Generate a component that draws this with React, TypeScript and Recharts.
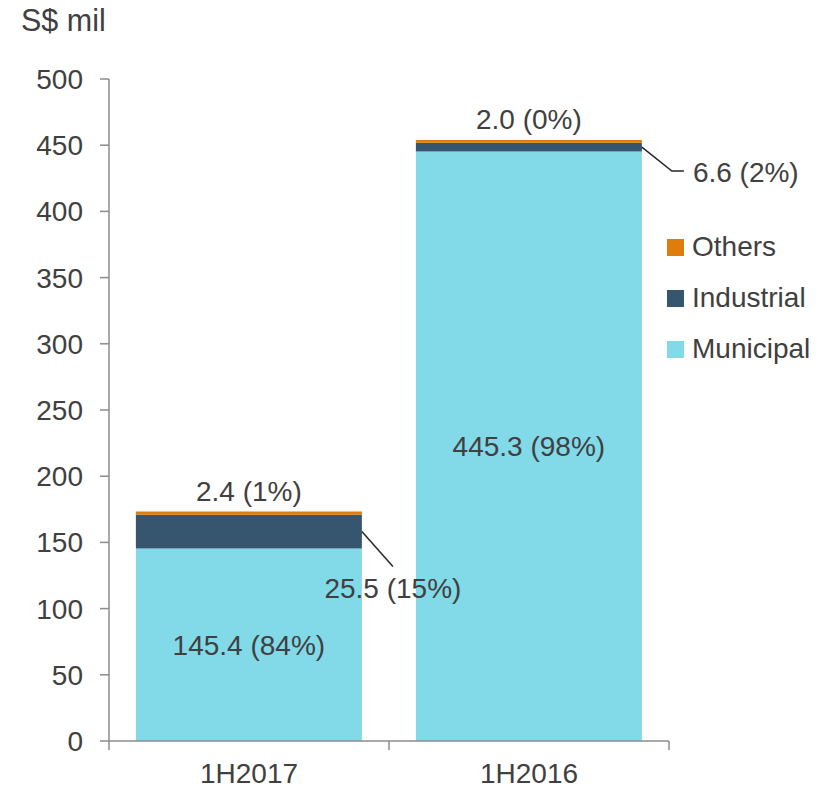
import React from 'react';
import { BarChart, Bar, XAxis, YAxis, LabelList } from 'recharts';

const categories = ['1H2017', '1H2016'];
const municipal = [145.4, 445.3];
const industrial = [25.5, 6.6];
const others = [2.4, 2.0];
const municipalPct = ['84%', '98%'];
const industrialPct = ['15%', '2%'];
const othersPct = ['1%', '0%'];
const yTicks = [0, 50, 100, 150, 200, 250, 300, 350, 400, 450, 500];
const yUnit = 'S$ mil';

const series = [
  { key: 'municipal', name: 'Municipal', color: '#82DAE9', values: municipal, pct: municipalPct },
  { key: 'industrial', name: 'Industrial', color: '#36566F', values: industrial, pct: industrialPct },
  { key: 'others', name: 'Others', color: '#DE7D0B', values: others, pct: othersPct },
];

const data = categories.map((c, i) => {
  const row: any = { category: c };
  series.forEach((s) => {
    row[s.key] = s.values[i];
  });
  return row;
});

const FONT = '"Liberation Sans", Arial, sans-serif';
const TEXT = '#404040';
const AXIS = '#8C8C8C';
const FS = 28;
const X_MARGIN = 22;

const fmt = (v: number, pct: string) => `${v.toFixed(1)} (${pct})`;

const TopLabel = (pcts: string[]) => (props: any) => {
  const { x, y, width, value, index } = props;
  return (
    <text x={x + width / 2} y={y - 11} textAnchor="middle" fill={TEXT} fontSize={FS} fontFamily={FONT}>
      {fmt(value, pcts[index])}
    </text>
  );
};

const CenterLabel = (pcts: string[]) => (props: any) => {
  const { x, y, width, height, value, index } = props;
  return (
    <text x={x + width / 2} y={y + height / 2} dy="0.355em" textAnchor="middle" fill={TEXT} fontSize={FS} fontFamily={FONT}>
      {fmt(value, pcts[index])}
    </text>
  );
};

const CalloutLabel = (pcts: string[]) => (props: any) => {
  const { x, y, width, height, value, index } = props;
  const sx = x + width;
  const sy = y + height / 2;
  const label = fmt(value, pcts[index]);
  if (index === 0) {
    return (
      <g>
        <line x1={sx} y1={sy} x2={sx + 31} y2={sy + 35} stroke="#262626" strokeWidth={1.5} />
        <text x={sx + 31} y={sy + 66} textAnchor="middle" fill={TEXT} fontSize={FS} fontFamily={FONT}>
          {label}
        </text>
      </g>
    );
  }
  return (
    <g>
      <polyline points={`${sx},${sy} ${sx + 30},${sy + 24} ${sx + 42},${sy + 24}`} fill="none" stroke="#262626" strokeWidth={1.5} />
      <text x={sx + 51} y={sy + 25} dy="0.355em" textAnchor="start" fill={TEXT} fontSize={FS} fontFamily={FONT}>
        {label}
      </text>
    </g>
  );
};

const CategoryTick = (props: any) => {
  const { x, y, payload, index, width, visibleTicksCount } = props;
  const step = width / visibleTicksCount;
  const axisY = y - X_MARGIN;
  return (
    <g>
      <line x1={x - step / 2} y1={axisY} x2={x - step / 2} y2={axisY + 9} stroke={AXIS} strokeWidth={1.5} />
      {index === visibleTicksCount - 1 && (
        <line x1={x + step / 2} y1={axisY} x2={x + step / 2} y2={axisY + 9} stroke={AXIS} strokeWidth={1.5} />
      )}
      <text x={x} y={y} dy="0.71em" textAnchor="middle" fill={TEXT} fontSize={FS} fontFamily={FONT}>
        {payload.value}
      </text>
    </g>
  );
};

const labelFor = (key: string, pcts: string[]) => {
  if (key === 'municipal') return CenterLabel(pcts);
  if (key === 'industrial') return CalloutLabel(pcts);
  return TopLabel(pcts);
};

export default function App() {
  const legendItems = [...series].reverse();
  return (
    <div style={{ position: 'absolute', left: 0, top: 0, width: 831, height: 789, background: '#fff', fontFamily: FONT }}>
      <div style={{ position: 'absolute', left: 21, top: 5, fontSize: 30.5, lineHeight: 1, color: TEXT, whiteSpace: 'nowrap' }}>
        {yUnit}
      </div>
      <BarChart width={831} height={789} data={data} margin={{ top: 79, right: 162, bottom: 0, left: 0 }} barCategoryGap="9.6%">
        <XAxis
          dataKey="category"
          height={48}
          tickSize={0}
          tickMargin={X_MARGIN}
          tickLine={false}
          axisLine={{ stroke: AXIS, strokeWidth: 1.5 }}
          tick={<CategoryTick />}
          interval={0}
        />
        <YAxis
          type="number"
          domain={[0, 500]}
          ticks={yTicks}
          width={109}
          tickSize={9}
          tickMargin={17}
          axisLine={{ stroke: AXIS, strokeWidth: 1.5 }}
          tickLine={{ stroke: AXIS, strokeWidth: 1.5 }}
          tick={{ fill: TEXT, fontSize: FS, fontFamily: FONT }}
          interval={0}
        />
        {series.map((s) => (
          <Bar key={s.key} dataKey={s.key} name={s.name} stackId="a" fill={s.color} isAnimationActive={false}>
            <LabelList dataKey={s.key} content={labelFor(s.key, s.pct)} />
          </Bar>
        ))}
      </BarChart>
      <div style={{ position: 'absolute', left: 667, top: 230 }}>
        {legendItems.map((s) => (
          <div key={s.key} style={{ display: 'flex', alignItems: 'center', height: 34, marginBottom: 17 }}>
            <div style={{ width: 17, height: 17, background: s.color, marginRight: 8 }} />
            <span style={{ fontSize: FS, color: TEXT, lineHeight: 1 }}>{s.name}</span>
          </div>
        ))}
      </div>
    </div>
  );
}
